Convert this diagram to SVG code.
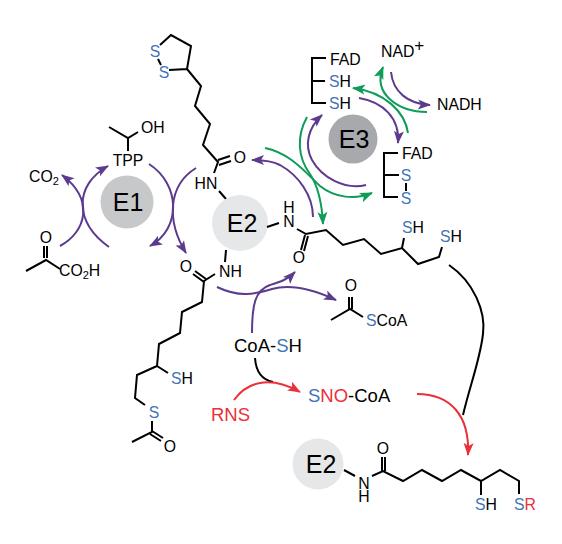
<svg xmlns="http://www.w3.org/2000/svg" width="562" height="544" viewBox="0 0 562 544">
<style>
text{font-family:"Liberation Sans",Arial,sans-serif;font-size:15.800px;fill:#000}
.big{font-size:25px}.c{text-anchor:middle}.sub{font-size:11px}.lg{font-size:18.500px}
.b{fill:#3f74b9}.r{fill:#ec2f38}
.bond{fill:none;stroke:#000;stroke-width:2;stroke-linejoin:miter}
.p{fill:none;stroke:#5c3b8e;stroke-width:2;marker-end:url(#ap)}
.g{fill:none;stroke:#0f9b59;stroke-width:2;marker-end:url(#ag)}
.rd{fill:none;stroke:#ec2f38;stroke-width:2;marker-end:url(#ar)}
.k{fill:none;stroke:#000;stroke-width:2}
</style>
<defs>
<marker id="ap" markerUnits="userSpaceOnUse" markerWidth="16" markerHeight="12" refX="12" refY="5" orient="auto" overflow="visible"><path d="M0 0L13 5L0 10L3 5Z" fill="#5c3b8e"/></marker>
<marker id="ag" markerUnits="userSpaceOnUse" markerWidth="16" markerHeight="12" refX="12" refY="5" orient="auto" overflow="visible"><path d="M0 0L13 5L0 10L3 5Z" fill="#0f9b59"/></marker>
<marker id="ar" markerUnits="userSpaceOnUse" markerWidth="16" markerHeight="12" refX="12" refY="5" orient="auto" overflow="visible"><path d="M0 0L13 5L0 10L3 5Z" fill="#ec2f38"/></marker>
</defs>
<g id="connectors">
<path class="k" d="M449 265C474 282 486 312 483 334C480 360 470 385 463 415"/>
<path class="k" d="M255 358C256 372 263 380 273 382"/>
<path class="p" d="M60 246C86 232 95 200 62 175"/>
<path class="p" d="M109 247C74 222 74 185 108 166"/>
<path class="p" d="M149 164C180 184 182 228 150 246"/>
<path class="p" d="M196 168C167 186 167 222 186 253"/>
<path class="p" d="M313 217C313 195 298 175 280 165C272 161 262 160 252 160"/>
<path class="g" d="M265 148C290 153 305 172 320 186C335 198 355 200 372 193"/>
<path class="g" d="M307 117C296 137 298 158 310 174C318 186 322 205 323 224"/>
<path class="p" d="M366 185C345 190 322 178 312 160C304 145 308 128 322 115"/>
<path class="g" d="M408 133C405 112 385 92 353 88"/>
<path class="g" d="M427 112C400 112 372 95 383 67"/>
<path class="p" d="M391 72C393 92 408 104 430 105"/>
<path class="p" d="M359 98C383 102 400 118 398 143"/>
<path class="p" d="M217 287C240 298 255 294 272 289C290 284 310 288 336 300"/>
<path class="p" d="M252 333C252 305 255 290 270 285C280 282 287 280 295 272"/>
<path class="rd" d="M234 400C250 378 275 378 300 392"/>
<path class="rd" d="M417 394C450 394 470 415 468 455"/>
</g>
<g id="lipoyl-chain">
<path class="bond" d="M160 45L171 35L191 46L187 69L169 70M158 59L161 65M187 69L201 86L195 106L210 124L203 145L218 162L214 173M218 160L230 156M219 165L231 161M219 191L226 199"/>
<text class="c b" x="155" y="57">S</text><text class="c b" x="164" y="78">S</text>
<text class="c" x="240" y="163">O</text><text class="c" x="206" y="189">HN</text>
</g>
<g id="E1">
<circle cx="127" cy="202" r="26.500" fill="#c7c8ca"/>
<text class="big c" x="128" y="211">E1</text>
</g>
<g id="TPP">
<path class="bond" d="M109 127L128 138L138 132M128 138V151"/>
<text class="c" x="128" y="166">TPP</text><text x="141" y="133">OH</text>
</g>
<g id="CO2">
<text x="29" y="182">CO<tspan class="sub" dy="3">2</tspan></text>
</g>
<g id="pyruvate">
<path class="bond" d="M44 246V258M47 246V258M26 271L46 260L60 269"/>
<text class="c" x="46" y="243">O</text>
<text x="59" y="276">CO<tspan class="sub" dy="3">2</tspan><tspan dy="-3">H</tspan></text>
</g>
<g id="E2">
<circle cx="240" cy="223" r="28" fill="#e6e7e8"/>
<text class="big c" x="242" y="232">E2</text>
</g>
<g id="dihydrolipoyl-chain">
<path class="bond" d="M267 227L279 223M297 229L306 234L326 230L343 245L364 239L381 254L402 248L418 264L439 257L442 247M402 248L404 238M305 235L301 250M308 236L304 251"/>
<text class="c" x="289" y="213">H<tspan x="289" dy="14">N</tspan></text>
<text class="c" x="299" y="263">O</text>
<text x="402" y="233"><tspan class="b">S</tspan>H</text>
<text x="440" y="242"><tspan class="b">S</tspan>H</text>
</g>
<g id="acetyl-chain">
<path class="bond" d="M226 250L225 262M215 274L204 281L202 302L182 312L180 333L159 344L157 366L137 375L135 398L145 405M157 366L168 373M152 421L152 432L132 442M152 431L163 438M150 434L161 441M204 282L193 274M206 279L195 271"/>
<text x="219" y="277">NH</text><text class="c" x="186" y="272">O</text>
<text x="171" y="384"><tspan class="b">S</tspan>H</text>
<text class="c b" x="154" y="418">S</text><text class="c" x="170" y="452">O</text>
</g>
<g id="E3">
<circle cx="353" cy="139" r="24.500" fill="#a7a9ac"/>
<text class="big c" x="354" y="148">E3</text>
</g>
<g id="reduced-FAD">
<path class="bond" d="M326 58H312V103H326M312 81H325"/>
<text x="330" y="65">FAD</text>
<text x="329" y="87"><tspan class="b">S</tspan>H</text>
<text x="329" y="109"><tspan class="b">S</tspan>H</text>
</g>
<g id="oxidized-FAD">
<path class="bond" d="M398 153H384V197H398M384 175H399M406 183V191"/>
<text x="402" y="159">FAD</text>
<text class="c b" x="406" y="181">S</text><text class="c b" x="406" y="204">S</text>
</g>
<g id="NAD"><text x="381" y="57">NAD<tspan font-size="17" dy="-6">+</tspan></text></g>
<g id="NADH"><text x="437" y="110">NADH</text></g>
<g id="acetyl-CoA">
<path class="bond" d="M331 320L350 309L363 317M349 309V297M352 309V297"/>
<text class="c" x="351" y="291">O</text>
<text x="366" y="326"><tspan class="b">S</tspan>CoA</text>
</g>
<g id="CoA-SH"><text class="lg" x="234" y="352">CoA-<tspan class="b">S</tspan>H</text></g>
<g id="RNS"><text class="r lg" x="211" y="421">RNS</text></g>
<g id="SNO-CoA"><text class="lg" x="308" y="402"><tspan class="b">S</tspan><tspan class="r">NO</tspan>-CoA</text></g>
<g id="E2-SR">
<circle cx="318" cy="464" r="25.500" fill="#e6e7e8"/>
<text class="big c" x="321" y="473">E2</text>
<path class="bond" d="M344 470L355 476M372 476L383 471L403 481L422 470L442 481L461 470L481 481L500 470L519 481V494M481 481V495M382 471V457M385 471V457"/>
<text class="c" x="364" y="489">N<tspan x="364" dy="13">H</tspan></text>
<text class="c" x="383" y="454">O</text>
<text x="475" y="510"><tspan class="b">S</tspan>H</text>
<text x="514" y="510"><tspan class="b">S</tspan><tspan class="r">R</tspan></text>
</g>
</svg>
